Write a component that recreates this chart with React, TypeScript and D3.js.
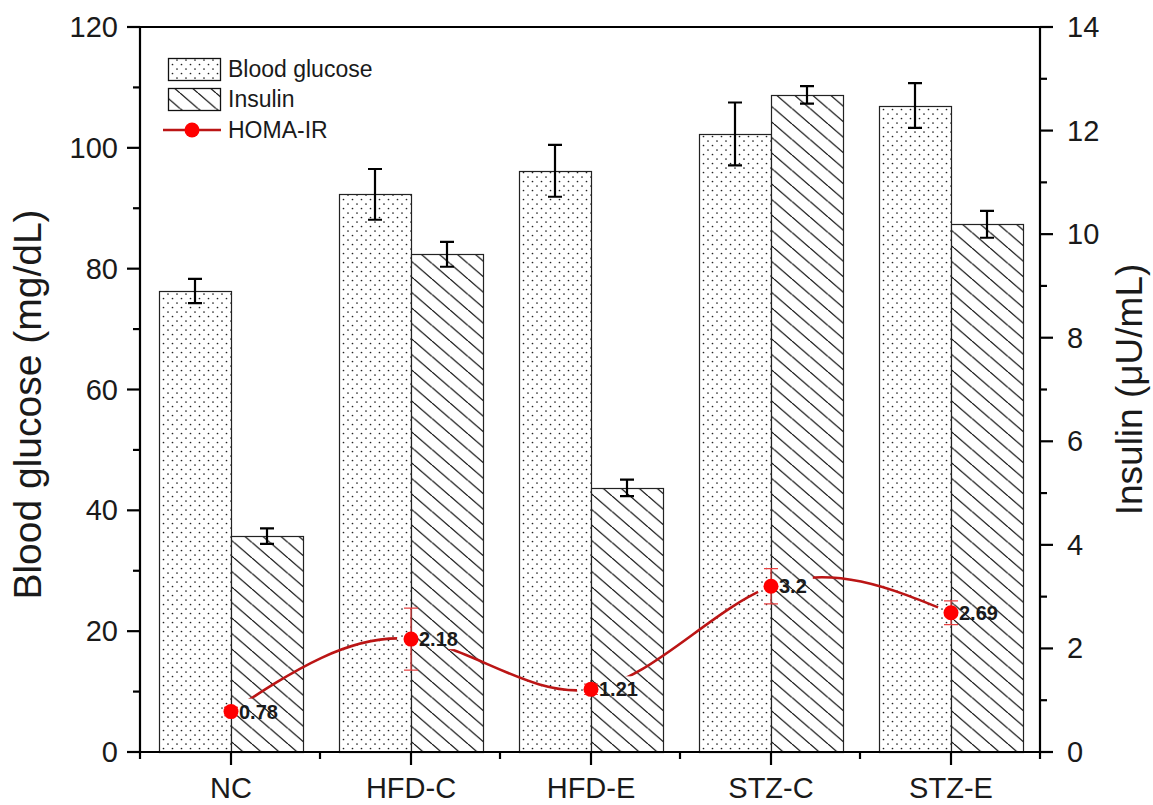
import React, { useRef, useEffect } from 'react';
import { select, scaleBand, scaleLinear, line, curveNatural, range } from 'd3';

const groups = ['NC', 'HFD-C', 'HFD-E', 'STZ-C', 'STZ-E'];
const glucose = [76.3, 92.3, 96.2, 102.3, 107.0];
const glucoseErr = [2.0, 4.2, 4.3, 5.2, 3.7];
const insulin = [4.17, 9.61, 5.1, 12.69, 10.19];
const insulinErr = [0.15, 0.24, 0.16, 0.17, 0.26];
const homa = [0.78, 2.18, 1.21, 3.2, 2.69];
const homaErr = [0.08, 0.6, 0.1, 0.34, 0.23];
const leftTicks = [0, 20, 40, 60, 80, 100, 120];
const rightTicks = [0, 2, 4, 6, 8, 10, 12, 14];

const W = 1153;
const H = 805;
const FONT = '"Liberation Sans", Arial, sans-serif';

const App = () => {
  const svgRef = useRef(null);

  useEffect(() => {
    const svg = select(svgRef.current);
    svg.selectAll('*').remove();

    const left = 140, right = 1040, top = 27, bottom = 752;

    const x = scaleBand().domain(groups).range([left, right]);
    const yL = scaleLinear().domain([0, 120]).range([bottom, top]);
    const yR = scaleLinear().domain([0, 14]).range([bottom, top]);
    const barW = x.bandwidth() * 0.4;
    const cx = d => x(d) + x.bandwidth() / 2 + 1;

    // patterns
    const defs = svg.append('defs');
    const dots = defs.append('pattern')
      .attr('id', 'dots')
      .attr('patternUnits', 'userSpaceOnUse')
      .attr('width', 9).attr('height', 9);
    dots.append('rect').attr('width', 9).attr('height', 9).attr('fill', 'white');
    [[1.5, 1.5], [6, 6]].forEach(([px, py]) =>
      dots.append('circle').attr('cx', px).attr('cy', py).attr('r', 0.85).attr('fill', '#222'));

    const hw = 18, hh = 15.5;
    const hatch = defs.append('pattern')
      .attr('id', 'hatch')
      .attr('patternUnits', 'userSpaceOnUse')
      .attr('width', hw).attr('height', hh);
    hatch.append('rect').attr('width', hw).attr('height', hh).attr('fill', 'white');
    hatch.append('path')
      .attr('d', `M0,0L${hw},${hh}M${-hw},0L0,${hh}M${hw},0L${2 * hw},${hh}`)
      .attr('stroke', '#111').attr('stroke-width', 1.25);

    // bars
    const g = svg.append('g');
    groups.forEach((d, i) => {
      g.append('rect')
        .attr('x', Math.round(cx(d) - barW) + 0.5).attr('y', Math.round(yL(glucose[i])) + 0.5)
        .attr('width', Math.round(barW)).attr('height', Math.round(yL(0) - yL(glucose[i])))
        .attr('fill', 'url(#dots)').attr('stroke', '#222').attr('stroke-width', 1.2);
      g.append('rect')
        .attr('x', Math.round(cx(d)) + 0.5).attr('y', Math.round(yR(insulin[i])) + 0.5)
        .attr('width', Math.round(barW)).attr('height', Math.round(yR(0) - yR(insulin[i])))
        .attr('fill', 'url(#hatch)').attr('stroke', '#222').attr('stroke-width', 1.2);
    });

    // bar error bars
    const errBar = (xc, y1, y2, color, sw) => {
      g.append('path')
        .attr('d', `M${xc},${y1}V${y2}M${xc - 7},${y1}H${xc + 7}M${xc - 7},${y2}H${xc + 7}`)
        .attr('stroke', color).attr('stroke-width', sw).attr('fill', 'none');
    };
    groups.forEach((d, i) => {
      const gx = cx(d) - barW / 2;
      errBar(gx, yL(glucose[i] + glucoseErr[i]), yL(glucose[i] - glucoseErr[i]), '#000', 2.2);
      const ix = cx(d) + barW / 2;
      errBar(ix, yR(insulin[i] + insulinErr[i]), yR(insulin[i] - insulinErr[i]), '#000', 2.2);
    });

    // HOMA-IR
    groups.forEach((d, i) => {
      errBar(cx(d), yR(homa[i] + homaErr[i]), yR(homa[i] - homaErr[i]), '#e84040', 1.2);
    });

    const labelW = s => s.split('').reduce((a, c) => a + (c === '.' ? 0.278 : 0.556), 0) * 20;
    const mask = defs.append('mask').attr('id', 'gap').attr('maskUnits', 'userSpaceOnUse');
    mask.append('rect').attr('width', W).attr('height', H).attr('fill', 'white');
    groups.forEach((d, i) => {
      mask.append('circle').attr('cx', cx(d)).attr('cy', yR(homa[i])).attr('r', 14).attr('fill', 'black');
      mask.append('rect')
        .attr('x', cx(d) + 6).attr('y', yR(homa[i]) - 13)
        .attr('width', labelW(String(homa[i])) + 8).attr('height', 23)
        .attr('fill', 'black');
    });

    const homaLine = line()
      .x((v, i) => cx(groups[i]))
      .y(v => yR(v))
      .curve(curveNatural);
    g.append('path')
      .attr('d', homaLine(homa))
      .attr('fill', 'none')
      .attr('stroke', '#bb1515')
      .attr('stroke-width', 2.6)
      .attr('mask', 'url(#gap)');

    groups.forEach((d, i) => {
      g.append('circle').attr('cx', cx(d)).attr('cy', yR(homa[i])).attr('r', 7.5).attr('fill', '#ff0000');
      g.append('text')
        .attr('x', cx(d) + 8).attr('y', yR(homa[i]) + 7)
        .attr('font-family', FONT).attr('font-size', 20).attr('font-weight', 'bold')
        .attr('fill', '#1a1a1a')
        .text(String(homa[i]));
    });

    // axes frame
    const ax = svg.append('g').attr('stroke', '#000').attr('stroke-width', 2.2).attr('fill', 'none');
    ax.append('path').attr('d', `M${left},${top}H${right}`);
    ax.append('path').attr('d', `M${left},${top - 1}V${bottom + 1}`);
    ax.append('path').attr('d', `M${right},${top - 1}V${bottom + 1}`);
    ax.append('path').attr('d', `M${left - 1},${bottom}H${right + 1}`);

    // left ticks
    leftTicks.forEach(t => {
      ax.append('path').attr('d', `M${left},${yL(t)}h-13`);
      svg.append('text')
        .attr('x', left - 22).attr('y', yL(t) + 10)
        .attr('text-anchor', 'end')
        .attr('font-family', FONT).attr('font-size', 29).attr('fill', '#1a1a1a')
        .text(t);
    });
    range(10, 120, 20).forEach(t => ax.append('path').attr('d', `M${left},${yL(t)}h-7`));

    // right ticks
    rightTicks.forEach(t => {
      ax.append('path').attr('d', `M${right},${yR(t)}h13`);
      svg.append('text')
        .attr('x', right + 27).attr('y', yR(t) + 10)
        .attr('font-family', FONT).attr('font-size', 29).attr('fill', '#1a1a1a')
        .text(t);
    });
    range(1, 14, 2).forEach(t => ax.append('path').attr('d', `M${right},${yR(t)}h7`));

    // bottom ticks
    groups.forEach(d => {
      ax.append('path').attr('d', `M${cx(d)},${bottom}v13`);
      svg.append('text')
        .attr('x', cx(d)).attr('y', bottom + 46)
        .attr('text-anchor', 'middle')
        .attr('font-family', FONT).attr('font-size', 29).attr('fill', '#1a1a1a')
        .text(d);
    });
    groups.forEach(d => ax.append('path').attr('d', `M${x(d)},${bottom}v7`));
    ax.append('path').attr('d', `M${right},${bottom}v7`);

    // axis titles
    svg.append('text')
      .attr('transform', `translate(41,${(top + bottom) / 2 + 15}) rotate(-90)`)
      .attr('text-anchor', 'middle')
      .attr('font-family', FONT).attr('font-size', 39).attr('fill', '#1a1a1a')
      .text('Blood glucose (mg/dL)');
    svg.append('text')
      .attr('transform', `translate(1142,${(top + bottom) / 2}) rotate(-90)`)
      .attr('text-anchor', 'middle')
      .attr('font-family', FONT).attr('font-size', 37).attr('fill', '#1a1a1a')
      .text('Insulin (\u03bcU/mL)');

    // legend
    const lg = svg.append('g');
    lg.append('rect').attr('x', 168.5).attr('y', 58.5).attr('width', 52).attr('height', 22)
      .attr('fill', 'url(#dots)').attr('stroke', '#111').attr('stroke-width', 1.3);
    lg.append('rect').attr('x', 168.5).attr('y', 88.5).attr('width', 52).attr('height', 22)
      .attr('fill', 'url(#hatch)').attr('stroke', '#111').attr('stroke-width', 1.3);
    lg.append('path').attr('d', 'M163,130H221').attr('stroke', '#bb1515').attr('stroke-width', 2.6);
    lg.append('circle').attr('cx', 192).attr('cy', 130).attr('r', 7.5).attr('fill', '#ff0000');
    [['Blood glucose', 69], ['Insulin', 99], ['HOMA-IR', 130]].forEach(([t, yy]) =>
      lg.append('text')
        .attr('x', 228).attr('y', yy + 8)
        .attr('font-family', FONT).attr('font-size', 23).attr('fill', '#1a1a1a')
        .text(t));
  }, []);

  return (
    <svg
      ref={svgRef}
      width={W}
      height={H}
      style={{ position: 'absolute', left: 0, top: 0, background: 'white' }}
    />
  );
};

export default App;
